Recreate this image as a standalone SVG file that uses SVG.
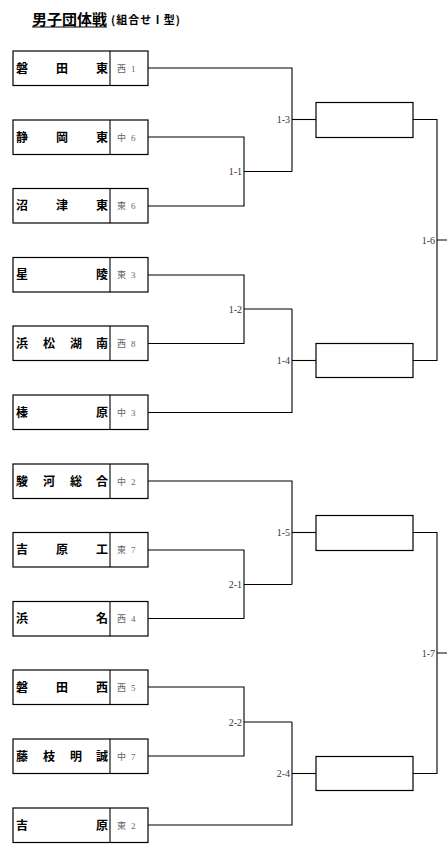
<svg xmlns="http://www.w3.org/2000/svg" width="447" height="859" viewBox="0 0 447 859">
<style>
.bx{fill:#fff;stroke:#000;stroke-width:1.2}
.ln{fill:none;stroke:#000;stroke-width:1.1}
.nm{font-family:"Noto Sans CJK JP","Noto Sans",sans-serif;font-size:12px;font-weight:bold;fill:#000}
.sd{font-family:"Liberation Serif","Noto Sans CJK JP",serif;font-size:9px;fill:#666}
.rl{font-family:"Liberation Serif",serif;font-size:10px;fill:#333;text-anchor:end}
.tt{font-family:"Noto Sans CJK JP",sans-serif;font-size:15px;font-weight:bold;fill:#000}
.st{font-family:"Noto Sans CJK JP",sans-serif;font-size:11px;font-weight:bold;fill:#000;letter-spacing:1px}
</style>
<rect width="447" height="859" fill="#fff"/>
<g id="title">
<text class="tt" x="32" y="25">男子団体戦</text>
<line x1="32" y1="27" x2="107" y2="27" stroke="#000" stroke-width="1"/>
<text class="st" x="111" y="24">(組合せ I 型)</text>
</g>
<g id="connectors">
<path class="ln" d="M148 68 H292 V171.5"/>
<path class="ln" d="M148 137 H244 V206 H148 M244 171.5 H292"/>
<path class="ln" d="M292 119.5 H316"/>
<path class="ln" d="M148 275 H244 V343.5 H148 M244 309 H292"/>
<path class="ln" d="M148 412.5 H292 V309"/>
<path class="ln" d="M292 360.5 H316"/>
<path class="ln" d="M413 119.5 H437 V360.5 H413 M437 240 H447"/>
<path class="ln" d="M148 481 H292 V584.5"/>
<path class="ln" d="M148 550 H244 V618.5 H148 M244 584.5 H292"/>
<path class="ln" d="M292 532.5 H316"/>
<path class="ln" d="M148 687 H244 V756 H148 M244 722 H292"/>
<path class="ln" d="M148 825 H292 V722"/>
<path class="ln" d="M292 773.5 H316"/>
<path class="ln" d="M413 532.5 H437 V773.5 H413 M437 653 H447"/>
</g>
<g id="round-labels">
<text class="rl" x="290" y="123">1-3</text>
<text class="rl" x="242" y="175">1-1</text>
<text class="rl" x="242" y="313">1-2</text>
<text class="rl" x="290" y="364">1-4</text>
<text class="rl" x="435" y="244">1-6</text>
<text class="rl" x="290" y="536">1-5</text>
<text class="rl" x="242" y="588">2-1</text>
<text class="rl" x="242" y="726">2-2</text>
<text class="rl" x="290" y="777">2-4</text>
<text class="rl" x="435" y="657">1-7</text>
</g>
<g id="team1"><rect class="bx" x="13" y="51" width="135" height="34.5"/><line class="ln" x1="110" y1="51" x2="110" y2="85.5"/><text class="nm" x="16 56 96" y="72.5">磐田東</text><text class="sd" x="117 127 131" y="71.5">西 1</text></g>
<g id="team2"><rect class="bx" x="13" y="120" width="135" height="34.5"/><line class="ln" x1="110" y1="120" x2="110" y2="154.5"/><text class="nm" x="16 56 96" y="141.5">静岡東</text><text class="sd" x="117 127 131" y="140.5">中 6</text></g>
<g id="team3"><rect class="bx" x="13" y="188.5" width="135" height="34.5"/><line class="ln" x1="110" y1="188.5" x2="110" y2="223"/><text class="nm" x="16 56 96" y="210">沼津東</text><text class="sd" x="117 127 131" y="209">東 6</text></g>
<g id="team4"><rect class="bx" x="13" y="257.5" width="135" height="34.5"/><line class="ln" x1="110" y1="257.5" x2="110" y2="292"/><text class="nm" x="16 96" y="279">星陵</text><text class="sd" x="117 127 131" y="278">東 3</text></g>
<g id="team5"><rect class="bx" x="13" y="326" width="135" height="34.5"/><line class="ln" x1="110" y1="326" x2="110" y2="360.5"/><text class="nm" x="16 43 70 96" y="347.5">浜松湖南</text><text class="sd" x="117 127 131" y="346.5">西 8</text></g>
<g id="team6"><rect class="bx" x="13" y="395" width="135" height="34.5"/><line class="ln" x1="110" y1="395" x2="110" y2="429.5"/><text class="nm" x="16 96" y="416.5">榛原</text><text class="sd" x="117 127 131" y="415.5">中 3</text></g>
<g id="team7"><rect class="bx" x="13" y="464" width="135" height="34.5"/><line class="ln" x1="110" y1="464" x2="110" y2="498.5"/><text class="nm" x="16 43 70 96" y="485.5">駿河総合</text><text class="sd" x="117 127 131" y="484.5">中 2</text></g>
<g id="team8"><rect class="bx" x="13" y="532.5" width="135" height="34.5"/><line class="ln" x1="110" y1="532.5" x2="110" y2="567"/><text class="nm" x="16 56 96" y="554">吉原工</text><text class="sd" x="117 127 131" y="553">東 7</text></g>
<g id="team9"><rect class="bx" x="13" y="601.5" width="135" height="34.5"/><line class="ln" x1="110" y1="601.5" x2="110" y2="636"/><text class="nm" x="16 96" y="623">浜名</text><text class="sd" x="117 127 131" y="622">西 4</text></g>
<g id="team10"><rect class="bx" x="13" y="670" width="135" height="34.5"/><line class="ln" x1="110" y1="670" x2="110" y2="704.5"/><text class="nm" x="16 56 96" y="691.5">磐田西</text><text class="sd" x="117 127 131" y="690.5">西 5</text></g>
<g id="team11"><rect class="bx" x="13" y="739" width="135" height="34.5"/><line class="ln" x1="110" y1="739" x2="110" y2="773.5"/><text class="nm" x="16 43 70 96" y="760.5">藤枝明誠</text><text class="sd" x="117 127 131" y="759.5">中 7</text></g>
<g id="team12"><rect class="bx" x="13" y="808" width="135" height="34.5"/><line class="ln" x1="110" y1="808" x2="110" y2="842.5"/><text class="nm" x="16 96" y="829.5">吉原</text><text class="sd" x="117 127 131" y="828.5">東 2</text></g>
<g id="winner1-3"><rect class="bx" x="316" y="102.5" width="97" height="35"/></g>
<g id="winner1-4"><rect class="bx" x="316" y="343.5" width="97" height="34"/></g>
<g id="winner1-5"><rect class="bx" x="316" y="515.5" width="97" height="35"/></g>
<g id="winner2-4"><rect class="bx" x="316" y="756.5" width="97" height="34"/></g>
</svg>
